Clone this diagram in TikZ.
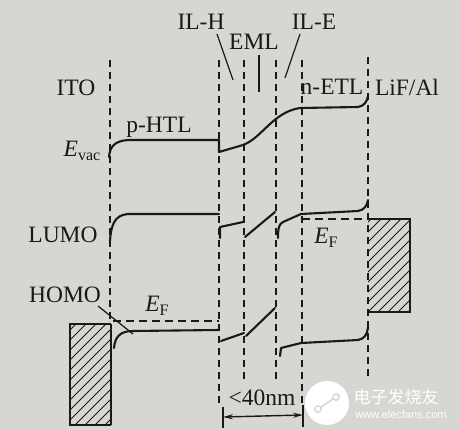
\documentclass[tikz,border=0pt]{standalone}
\usepackage{fontspec}
\setmainfont{Liberation Serif}
\newfontfamily\cjkfont{Noto Sans CJK SC}
\newfontfamily\wmsans{Liberation Sans}
\usetikzlibrary{arrows.meta}
\definecolor{paper}{RGB}{214,214,210}
\definecolor{ink}{RGB}{25,25,25}
\tikzset{
  band/.style={ink, line width=2.1pt, line join=round, line cap=round},
  iface/.style={ink, line width=1.7pt, dash pattern=on 7pt off 5pt},
  fermi/.style={ink, line width=1.7pt, dash pattern=on 8pt off 5pt},
  lbl/.style={ink, font=\fontsize{23.5}{23.5}\selectfont, inner sep=0pt},
  lead/.style={ink, line width=1.2pt},
  boxedge/.style={ink, line width=2.4pt, line join=miter},
  hatchline/.style={ink, line width=0.9pt},
  wm/.style={white, inner sep=0pt},
}
\newcommand{\subE}[1]{{\itshape E}\raisebox{-0.35ex}{\fontsize{16}{16}\selectfont #1}}
\begin{document}
\begin{tikzpicture}[x=1pt,y=-1pt]
\fill[paper] (0,0) rectangle (460,430);
\useasboundingbox (0,0) rectangle (460,430);

% interface dashed lines
\draw[iface] (110,60) -- (110,324);
\draw[iface] (219,60) -- (219,406);
\draw[iface] (244,60) -- (244,383);
\draw[iface] (276,60) -- (276,383);
\draw[iface] (302,60) -- (302,404);
\draw[iface] (368,57) -- (368,378);

% hatched electrodes
\begin{scope}
  \clip (70,324) rectangle (111,425);
  \foreach \x in {-60,-50,...,130} \draw[hatchline] (\x,430) -- ++(120,-120);
\end{scope}
\draw[boxedge] (111,324) -- (70,324) -- (70,425) -- (111,425);
\draw[ink, line width=1.3pt] (111,324) -- (111,425);
\begin{scope}
  \clip (368,219) rectangle (410,312);
  \foreach \x in {240,250,...,420} \draw[hatchline] (\x,320) -- ++(110,-110);
\end{scope}
\draw[boxedge] (368,219) -- (410,219) -- (410,312) -- (368,312);

% Fermi levels
\draw[fermi] (113,321) -- (219,321);
\draw[fermi] (302,219) -- (368,219);

% vacuum level
\draw[band] (109,157) .. controls (110,146) and (115,141) .. (128,140) -- (219,140) -- (219,152)
  -- (243,145) .. controls (262,138) and (273,112) .. (300,108) -- (358,107)
  .. controls (364,106) and (367,102) .. (368,96);

% LUMO
\draw[band] (110,241) .. controls (111,226) and (114,215) .. (128,214) -- (219,214);
\draw[band] (220,238) -- (220,227) -- (243,222);
\draw[band] (245,237) -- (275,212);
\draw[band] (278,238) .. controls (278,228) and (279,224) .. (283,222) -- (301,214) -- (358,211)
  .. controls (364,210) and (367,206) .. (368,200);

% HOMO
\draw[band] (114,348) .. controls (115,337) and (120,331) .. (133,331) -- (219,330);
\draw[band] (221,341) -- (244,333);
\draw[band] (246,336) -- (275,308);
\draw[band] (280,356) -- (281,348) -- (301,343) -- (358,340)
  .. controls (364,339) and (367,335) .. (368,328);

% labels
\node[lbl] (ito) at (76,88) {ITO};
\node[lbl] (phtl) at (159,127) {p-HTL};
\node[lbl] (evac) at (82,151) {\subE{vac}};
\node[lbl] (lumo) at (63,235) {LUMO};
\node[lbl] (homo) at (65,295) {HOMO};
\node[lbl] (efl) at (157,306) {\subE{F}};
\node[lbl] (efr) at (326,238) {\subE{F}};
\node[lbl] (ilh) at (201,22) {IL-H};
\node[lbl] (eml) at (254,42) {EML};
\node[lbl] (ile) at (314,22) {IL-E};
\node[lbl] (netl) at (332,87) {n-ETL};
\node[lbl] (lifal) at (407,87) {LiF/Al};
\node[lbl] (dist) at (262,398) {<40nm};

% leader lines
\coordinate (homoend) at (133,334);
\coordinate (ilhend) at (233,80);
\coordinate (ileend) at (285,78);
\coordinate (emltop) at (259,55);
\coordinate (emlend) at (259,92);
\draw[lead] (98,306) -- (homoend);
\draw[lead] (217,34) -- (ilhend);
\draw[lead] (300,34) -- (ileend);
\draw[lead] (emltop) -- (emlend);

% dimension arrow
\coordinate (dl) at (223,417);
\coordinate (dr) at (303,415);
\draw[ink, line width=1.3pt] (223,407) -- (223,428);
\draw[ink, line width=1.3pt] (303,405) -- (303,427);
\draw[ink, line width=1.4pt, {Stealth[length=10pt,width=5pt]}-{Stealth[length=10pt,width=5pt]}] (dl) -- (dr);

% watermark
\fill[white] (327,403) circle (22);
\draw[paper, line width=1.6pt] (318,409) -- (336,397);
\draw[paper, line width=1.4pt, fill=white] (318,409) circle (3.2);
\draw[paper, line width=1.4pt, fill=white] (336,397) circle (3.2);
\node[wm, font=\cjkfont\fontsize{17}{17}\selectfont] (wmcn) at (396,397) {电子发烧友};
\node[wm, font=\wmsans\fontsize{11}{11}\selectfont] (wmurl) at (401,415) {www.elecfans.com};
\end{tikzpicture}
\end{document}
